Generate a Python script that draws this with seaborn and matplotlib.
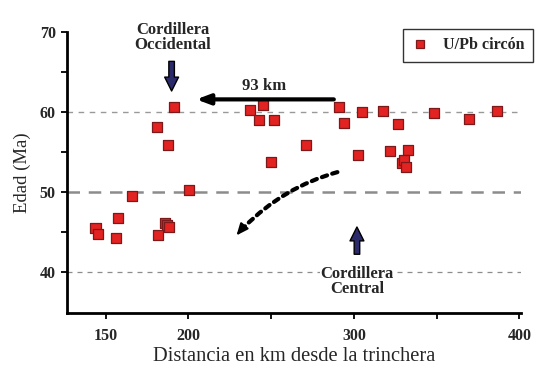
import matplotlib
matplotlib.use("Agg")
import matplotlib.pyplot as plt
import seaborn as sns
import pandas as pd
from matplotlib.patches import FancyArrowPatch

distance_km = [143.8, 145.4, 157.2, 156.4, 165.7, 185.7, 186.9, 188.1, 181.7, 200.2,
               191.0, 180.9, 187.8, 237.2, 244.8, 242.4, 251.8, 249.6, 271.0,
               291.2, 293.8, 305.0, 317.7, 326.9, 348.4, 369.3, 386.6,
               302.6, 321.9, 332.7, 329.1, 330.5, 331.5]
age_ma = [45.5, 44.8, 46.8, 44.3, 49.5, 46.2, 45.9, 45.6, 44.6, 50.3,
          60.6, 58.1, 55.9, 60.3, 60.9, 59.0, 59.0, 53.8, 55.9,
          60.7, 58.6, 60.0, 60.2, 58.5, 59.9, 59.2, 60.1,
          54.6, 55.1, 55.3, 53.7, 54.0, 53.2]
series_label = "U/Pb circón"
x_ticks = [150, 200, 250, 300, 350, 400]
x_tick_labels = ["150", "200", "", "300", "", "400"]
y_ticks = [40, 50, 60, 70]

df = pd.DataFrame({"Distancia": distance_km, "Edad": age_ma,
                   "Serie": [series_label] * len(distance_km)})

sns.set_style("ticks")
plt.rcParams["font.family"] = ["Liberation Serif", "DejaVu Serif"]

fig = plt.figure(figsize=(5.35, 3.74), dpi=100)
ax = fig.add_axes([0.125, 0.163, 0.849, 0.751])

# reference dashed lines
ax.axhline(60, color="#999999", lw=1.0, ls=(0, (4, 4)), zorder=1)
ax.axhline(50, color="#8c8c8c", lw=1.8, ls=(0, (5, 3.5)), zorder=1)
ax.axhline(40, color="#8c8c8c", lw=0.9, ls=(0, (4, 4)), zorder=1)

sns.scatterplot(data=df, x="Distancia", y="Edad", hue="Serie", palette=["#e32222"],
                marker="s", s=52, edgecolor="#7a1a1a", linewidth=0.9, ax=ax, zorder=3)

ax.set_xlim(126.5, 401)
ax.set_ylim(34.9, 70)
ax.set_xticks(x_ticks)
ax.set_xticklabels(x_tick_labels)
ax.set_yticks(y_ticks)
ax.set_yticks([45, 55, 65], minor=True)
for lab in ax.get_xticklabels() + ax.get_yticklabels():
    lab.set_fontweight("bold")
    lab.set_fontsize(11.5)
ax.tick_params(axis="both", which="both", direction="out", length=4, width=1.3, color="black")
ax.tick_params(axis="x", pad=7)
ax.tick_params(axis="y", pad=4)
for side in ["top", "right"]:
    ax.spines[side].set_visible(False)
for side in ["left", "bottom"]:
    ax.spines[side].set_linewidth(2)
    ax.spines[side].set_color("black")

ax.set_xlabel("Distancia en km desde la trinchera", fontsize=14.8, labelpad=2)
ax.set_ylabel("Edad (Ma)", fontsize=13.5, labelpad=6)

leg = ax.legend(loc="upper right", bbox_to_anchor=(1.026, 1.013), frameon=True, fancybox=False,
                prop={"weight": "bold", "size": 11.5}, borderpad=0.55, handlelength=1.0,
                handletextpad=0.9, borderaxespad=0.0, markerscale=0.85)
leg.get_frame().set_edgecolor("black")
leg.get_frame().set_linewidth(1.0)

# annotations
ax.text(190.4, 69.3, "Cordillera\nOccidental", ha="center", va="center", fontsize=12,
        fontweight="bold", linespacing=0.92, clip_on=False)
ax.text(301.8, 38.9, "Cordillera\nCentral", ha="center", va="center", fontsize=12,
        fontweight="bold", linespacing=0.92,
        bbox=dict(facecolor="white", edgecolor="none", pad=0.3))
ax.text(245.8, 63.3, "93 km", ha="center", va="center", fontsize=12, fontweight="bold")

navy = "#2b2a6b"
ax.annotate("", xy=(189.8, 62.3), xytext=(189.8, 66.7),
            arrowprops=dict(arrowstyle="simple,head_width=1.0,head_length=1.0,tail_width=0.4",
                            facecolor=navy, edgecolor="black", lw=1.0))
ax.annotate("", xy=(301.8, 46.0), xytext=(301.8, 41.9),
            arrowprops=dict(arrowstyle="simple,head_width=1.0,head_length=1.0,tail_width=0.4",
                            facecolor=navy, edgecolor="black", lw=1.0))
ax.annotate("", xy=(203.0, 61.6), xytext=(289.5, 61.6),
            arrowprops=dict(arrowstyle="-|>,head_width=0.3,head_length=0.8",
                            facecolor="black", edgecolor="black", lw=3))

# dotted curved arrow (body dotted, head solid)
arc = FancyArrowPatch((291.6, 52.6), (232.5, 45.4), connectionstyle="arc3,rad=0.14",
                      arrowstyle="-", color="black",
                      lw=3, linestyle=(0, (1.3, 1.3)))
ax.add_patch(arc)
ax.annotate("", xy=(229.0, 44.6), xytext=(233.0, 45.6),
            arrowprops=dict(arrowstyle="-|>,head_width=0.3,head_length=0.7",
                            facecolor="black", edgecolor="black", lw=1.5,
                            shrinkA=0, shrinkB=0))

fig.savefig("out.png", dpi=100)
